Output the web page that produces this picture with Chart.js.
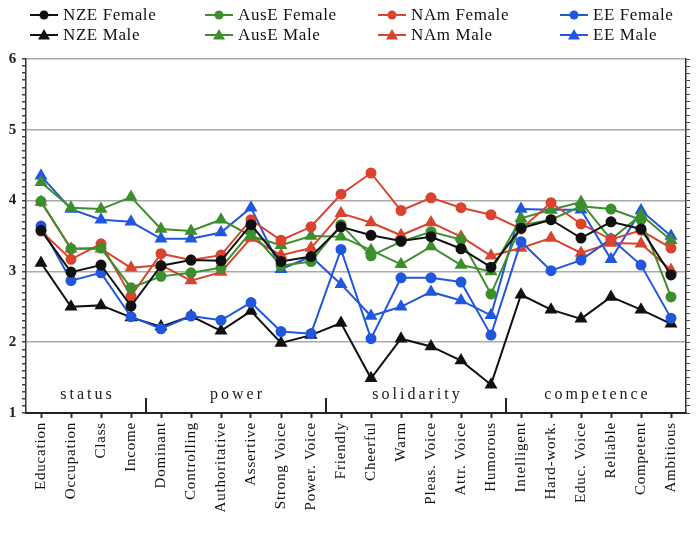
<!doctype html>
<html>

<head>
    <meta charset="UTF-8">
    <title>Ratings by trait</title>
    <script src="https://cdn.jsdelivr.net/npm/chart.js"></script>
    <style>
        body {
            margin: 0;
            background-color: #ffffff;
        }
    </style>
</head>

<body>
    <canvas id="grafico" width="700" height="544"></canvas>

    <script>
        var categorias = ['Education', 'Occupation', 'Class', 'Income',
            'Dominant', 'Controlling', 'Authoritative', 'Assertive', 'Strong Voice', 'Power. Voice',
            'Friendly', 'Cheerful', 'Warm', 'Pleas. Voice', 'Attr. Voice', 'Humorous',
            'Intelligent', 'Hard-work.', 'Educ. Voice', 'Reliable', 'Competent', 'Ambitious'];

        var grupos = ['status', 'power', 'solidarity', 'competence'];
        var tamanhoGrupos = [4, 6, 6, 6];

        var nzeFemale = [3.58, 2.99, 3.09, 2.51, 3.08, 3.16, 3.15, 3.66, 3.14, 3.21, 3.63, 3.51, 3.43, 3.49, 3.32, 3.06, 3.61, 3.73, 3.47, 3.70, 3.60, 2.95];
        var nzeMale = [3.12, 2.50, 2.52, 2.35, 2.22, 2.37, 2.16, 2.44, 1.99, 2.10, 2.27, 1.49, 2.05, 1.94, 1.74, 1.40, 2.67, 2.46, 2.33, 2.64, 2.46, 2.26];
        var auseFemale = [3.99, 3.32, 3.33, 2.77, 2.93, 2.98, 3.05, 3.56, 3.08, 3.14, 3.66, 3.22, 3.42, 3.56, 3.45, 2.68, 3.65, 3.73, 3.92, 3.88, 3.73, 2.64];
        var auseMale = [4.26, 3.90, 3.88, 4.05, 3.60, 3.57, 3.73, 3.50, 3.37, 3.50, 3.49, 3.30, 3.10, 3.35, 3.09, 3.00, 3.75, 3.87, 3.98, 3.45, 3.80, 3.44];
        var namFemale = [3.57, 3.17, 3.39, 2.65, 3.25, 3.16, 3.23, 3.73, 3.44, 3.63, 4.09, 4.39, 3.86, 4.04, 3.90, 3.80, 3.60, 3.97, 3.67, 3.45, 3.58, 3.33];
        var namMale = [3.98, 3.32, 3.32, 3.05, 3.09, 2.87, 2.99, 3.47, 3.23, 3.33, 3.82, 3.69, 3.51, 3.69, 3.49, 3.22, 3.33, 3.47, 3.26, 3.40, 3.39, 3.02];
        var eeFemale = [3.64, 2.87, 2.98, 2.36, 2.19, 2.37, 2.31, 2.56, 2.15, 2.12, 3.31, 2.05, 2.91, 2.91, 2.85, 2.10, 3.42, 3.01, 3.16, 3.46, 3.09, 2.34];
        var eeMale = [4.35, 3.88, 3.73, 3.70, 3.46, 3.46, 3.55, 3.90, 3.03, 3.21, 2.82, 2.37, 2.50, 2.71, 2.59, 2.38, 3.88, 3.87, 3.87, 3.17, 3.86, 3.50];

        var preto = '#111111';
        var verde = '#3d8e2c';
        var vermelho = '#d9442f';
        var azul = '#2057dd';

        var fonteSerif = '"Liberation Serif", serif';

        function serie(nome, valores, cor, estilo) {
            return {
                label: nome,
                data: valores,
                borderColor: cor,
                backgroundColor: cor,
                pointBackgroundColor: cor,
                pointBorderColor: cor,
                pointStyle: estilo,
                pointRadius: estilo == 'triangle' ? 5.5 : 4.5,
                borderWidth: 2,
                tension: 0
            };
        }

        var series = [
            serie('NZE Female', nzeFemale, preto, 'circle'),
            serie('AusE Female', auseFemale, verde, 'circle'),
            serie('NAm Female', namFemale, vermelho, 'circle'),
            serie('EE Female', eeFemale, azul, 'circle'),
            serie('NZE Male', nzeMale, preto, 'triangle'),
            serie('AusE Male', auseMale, verde, 'triangle'),
            serie('NAm Male', namMale, vermelho, 'triangle'),
            serie('EE Male', eeMale, azul, 'triangle')
        ];

        function inteiro(v) {
            return Math.abs(v - Math.round(v)) < 1e-6;
        }

        // espaçamento de letras como no original
        var espacamento = {
            id: 'espacamento',
            beforeDraw(chart) {
                chart.ctx.letterSpacing = '0.8px';
            }
        };

        // grupos, separadores e legenda desenhados por cima
        var extras = {
            id: 'extras',
            afterDraw(chart) {
                var ctx = chart.ctx;
                var area = chart.chartArea;
                var x = chart.scales.x;
                ctx.save();

                var inicio = 0;
                grupos.forEach((g, i) => {
                    var fim = inicio + tamanhoGrupos[i] - 1;
                    var cx = (x.getPixelForValue(inicio) + x.getPixelForValue(fim)) / 2;
                    ctx.fillStyle = '#1a1a1a';
                    ctx.font = '16px ' + fonteSerif;
                    ctx.letterSpacing = '3px';
                    ctx.textAlign = 'center';
                    ctx.textBaseline = 'middle';
                    ctx.fillText(g, cx + 1.5, area.bottom - 18);
                    if (i > 0) {
                        var sx = (x.getPixelForValue(inicio - 1) + x.getPixelForValue(inicio)) / 2;
                        ctx.strokeStyle = '#222';
                        ctx.lineWidth = 2;
                        ctx.beginPath();
                        ctx.moveTo(sx, area.bottom);
                        ctx.lineTo(sx, area.bottom - 15);
                        ctx.stroke();
                    }
                    inicio += tamanhoGrupos[i];
                });

                // legenda 4 x 2
                ctx.letterSpacing = '0.6px';
                var colunas = [30, 205, 378, 560];
                var linhas = [15, 35];
                series.forEach((s, i) => {
                    var lx = colunas[i % 4];
                    var ly = linhas[Math.floor(i / 4)];
                    ctx.strokeStyle = s.borderColor;
                    ctx.fillStyle = s.borderColor;
                    ctx.lineWidth = 2;
                    ctx.beginPath();
                    ctx.moveTo(lx, ly);
                    ctx.lineTo(lx + 28, ly);
                    ctx.stroke();
                    ctx.beginPath();
                    if (s.pointStyle == 'circle') {
                        ctx.arc(lx + 14, ly, 4.5, 0, Math.PI * 2);
                    } else {
                        ctx.moveTo(lx + 14, ly - 6);
                        ctx.lineTo(lx + 20, ly + 4.5);
                        ctx.lineTo(lx + 8, ly + 4.5);
                        ctx.closePath();
                    }
                    ctx.fill();
                    ctx.fillStyle = '#111';
                    ctx.font = '17px ' + fonteSerif;
                    ctx.textAlign = 'left';
                    ctx.textBaseline = 'middle';
                    ctx.fillText(s.label, lx + 33, ly + 1);
                });
                ctx.restore();
            }
        };

        var grafico = new Chart(document.getElementById('grafico').getContext('2d'), {
            type: 'line',
            data: {
                labels: categorias,
                datasets: series
            },
            plugins: [espacamento, extras],
            options: {
                responsive: false,
                animation: false,
                layout: {
                    padding: { top: 59, left: 0, right: 0, bottom: 0 }
                },
                plugins: {
                    legend: { display: false },
                    tooltip: { enabled: false }
                },
                scales: {
                    x: {
                        offset: true,
                        afterFit: (scale) => { scale.height = 131; },
                        grid: {
                            drawOnChartArea: false,
                            tickLength: 5,
                            tickColor: '#333',
                            tickWidth: 2
                        },
                        border: { color: '#222', width: 2 },
                        ticks: {
                            minRotation: 90,
                            maxRotation: 90,
                            autoSkip: false,
                            padding: 4,
                            color: '#111',
                            font: { family: fonteSerif, size: 15 }
                        }
                    },
                    y: {
                        min: 1,
                        max: 6,
                        afterFit: (scale) => { scale.width = 26; },
                        grid: {
                            color: (c) => inteiro(c.tick.value) ? '#aaaaaa' : 'rgba(0,0,0,0)',
                            lineWidth: 1.5,
                            tickColor: '#444',
                            tickLength: 4
                        },
                        border: { color: '#333', width: 1.5 },
                        ticks: {
                            stepSize: 0.1,
                            autoSkip: false,
                            padding: 5,
                            color: '#222',
                            font: { family: fonteSerif, size: 15, weight: 'bold' },
                            callback: (v) => inteiro(v) ? Math.round(v) : ''
                        }
                    },
                    y2: {
                        position: 'right',
                        min: 1,
                        max: 6,
                        afterFit: (scale) => { scale.width = 14; },
                        grid: {
                            drawOnChartArea: false,
                            tickColor: '#444',
                            tickLength: 4
                        },
                        border: { color: '#333', width: 1.5, dash: [2, 3] },
                        ticks: {
                            stepSize: 0.1,
                            autoSkip: false,
                            padding: 0,
                            font: { size: 1 },
                            callback: () => ''
                        }
                    }
                }
            }
        });
    </script>
</body>

</html>
